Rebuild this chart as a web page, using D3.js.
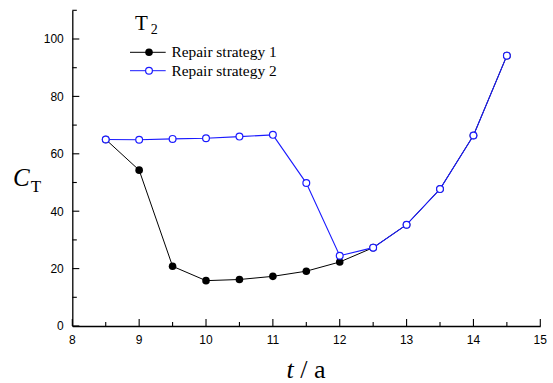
<!DOCTYPE html>
<html>
<head>
<meta charset="utf-8">
<script src="https://cdn.jsdelivr.net/npm/d3@7"></script>
<style>
  html, body { margin: 0; padding: 0; background: #fff; }
  svg { display: block; }
</style>
</head>
<body>
<svg id="chart" width="553" height="383"></svg>
<script>
// Years of repair (t / a)
const years = [8.5, 9, 9.5, 10, 10.5, 11, 11.5, 12, 12.5, 13, 13.5, 14, 14.5];
// Total cost C_T for each repair strategy
const strategy1 = [65.0, 54.3, 20.8, 15.8, 16.2, 17.3, 19.1, 22.3, 27.3, 35.3, 47.7, 66.4, 94.2];
const strategy2 = [65.0, 64.9, 65.2, 65.4, 66.0, 66.6, 49.8, 24.5, 27.3, 35.3, 47.7, 66.4, 94.2];
const seriesNames = ["Repair strategy 1", "Repair strategy 2"];
const xTicks = [8, 9, 10, 11, 12, 13, 14, 15];
const yTicks = [0, 20, 40, 60, 80, 100];

const svg = d3.select("#chart");
const x = d3.scaleLinear().domain([8, 15]).range([72.3, 540.3]);
const y = d3.scaleLinear().domain([0, 110]).range([326, 10.3]);

const tickFont = "'Liberation Sans', Arial, sans-serif";
const serif = "'Liberation Serif', 'Times New Roman', serif";

// Axes with inward ticks: majors labelled, minors in between
function drawAxes() {
  const gx = svg.append("g").attr("transform", `translate(0,${y(0)})`);
  gx.call(d3.axisBottom(x).tickValues(d3.range(8, 15.01, 0.5)).tickSize(0).tickFormat(""));
  gx.select(".domain").attr("stroke", "#000").attr("stroke-width", 1.3);
  d3.range(8, 15.01, 0.5).forEach(v => {
    const major = Number.isInteger(v);
    gx.append("line").attr("x1", x(v)).attr("x2", x(v))
      .attr("y1", 0).attr("y2", major ? -7 : -4)
      .attr("stroke", "#000").attr("stroke-width", 1.1);
  });
  gx.selectAll(".lbl").data(xTicks).join("text")
    .attr("class", "lbl")
    .attr("x", d => x(d)).attr("y", 17.5)
    .attr("text-anchor", "middle").attr("fill", "#000")
    .attr("font-family", tickFont).attr("font-size", 12)
    .text(d => d);

  const gy = svg.append("g").attr("transform", `translate(${x(8)},0)`);
  gy.call(d3.axisLeft(y).tickValues(d3.range(0, 110.01, 10)).tickSize(0).tickFormat(""));
  gy.select(".domain").attr("stroke", "#000").attr("stroke-width", 1.3);
  d3.range(0, 110.01, 10).forEach(v => {
    const major = v % 20 === 0;
    gy.append("line").attr("x1", 0).attr("x2", major ? 7 : 4.5)
      .attr("y1", y(v)).attr("y2", y(v))
      .attr("stroke", "#000").attr("stroke-width", 1.1);
  });
  gy.selectAll(".lbl").data(yTicks).join("text")
    .attr("class", "lbl")
    .attr("x", -8.5).attr("y", d => y(d) + 4.3)
    .attr("text-anchor", "end").attr("fill", "#000")
    .attr("font-family", tickFont).attr("font-size", 12)
    .text(d => d);
}
drawAxes();

const line = d3.line().x(d => x(d[0])).y(d => y(d[1]));
const pts1 = years.map((t, i) => [t, strategy1[i]]);
const pts2 = years.map((t, i) => [t, strategy2[i]]);

// Strategy 1: black line, filled black circles
svg.append("path").datum(pts1).attr("d", line)
  .attr("fill", "none").attr("stroke", "#000").attr("stroke-width", 1);
svg.selectAll(".m1").data(pts1).join("circle")
  .attr("cx", d => x(d[0])).attr("cy", d => y(d[1])).attr("r", 3.8)
  .attr("fill", "#000");

// Strategy 2: blue line, open blue circles
const blue = "#1a1aff";
svg.append("path").datum(pts2).attr("d", line)
  .attr("fill", "none").attr("stroke", blue).attr("stroke-width", 1.1);
svg.selectAll(".m2").data(pts2).join("circle")
  .attr("cx", d => x(d[0])).attr("cy", d => y(d[1])).attr("r", 3.4)
  .attr("fill", "#fff").attr("stroke", blue).attr("stroke-width", 1.2);

// Legend
const legend = svg.append("g");
const lt = legend.append("text").attr("x", 135).attr("y", 30)
  .attr("font-family", serif).attr("font-size", 21);
lt.append("tspan").text("T");
lt.append("tspan").attr("dx", 3).attr("dy", 4).attr("font-size", 14).text("2");

const rows = [
  { name: seriesNames[0], color: "#000", filled: true, cy: 52.3 },
  { name: seriesNames[1], color: blue, filled: false, cy: 70.7 }
];
rows.forEach(r => {
  legend.append("line").attr("x1", 130).attr("x2", 165.7)
    .attr("y1", r.cy).attr("y2", r.cy)
    .attr("stroke", r.color).attr("stroke-width", 1);
  legend.append("circle").attr("cx", 149).attr("cy", r.cy)
    .attr("r", r.filled ? 3.8 : 3.4)
    .attr("fill", r.filled ? "#000" : "#fff")
    .attr("stroke", r.filled ? "none" : r.color).attr("stroke-width", 1.2);
  legend.append("text").attr("x", 171.5).attr("y", r.cy + 5)
    .attr("font-family", serif).attr("font-size", 15.4)
    .text(r.name);
});

// Axis titles
const yt = svg.append("text").attr("x", 13).attr("y", 185.5)
  .attr("font-family", serif);
yt.append("tspan").attr("font-style", "italic").attr("font-size", 25).text("C");
yt.append("tspan").attr("dx", 1).attr("dy", 6).attr("font-size", 17).text("T");

const xt = svg.append("text").attr("x", 306).attr("y", 378.3)
  .attr("text-anchor", "middle").attr("font-family", serif).attr("font-size", 26);
xt.append("tspan").attr("font-style", "italic").text("t");
xt.append("tspan").text(" / a");
</script>
</body>
</html>
